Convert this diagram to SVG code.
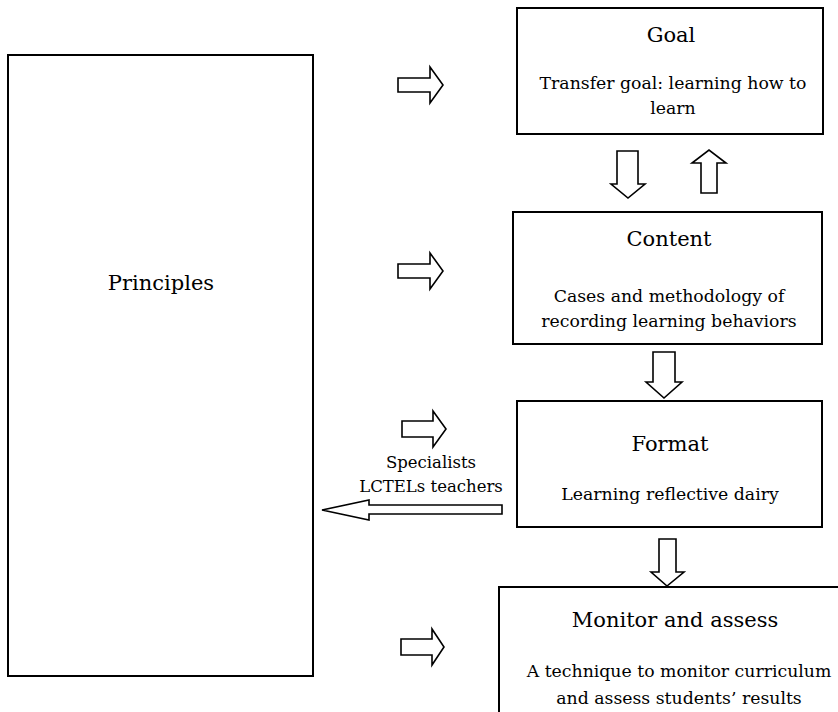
<svg xmlns="http://www.w3.org/2000/svg" width="838" height="712" viewBox="0 0 838 712">
<style>
.box{fill:#fff;stroke:#000;stroke-width:2}
.arr{fill:#fff;stroke:#000;stroke-width:1.6;stroke-linejoin:miter}
text{font-family:"DejaVu Serif","Liberation Serif",serif;fill:#000;text-anchor:middle}
.t{font-size:21px}
.s{font-size:17.3px}
.l{font-size:16.5px}
</style>
<rect width="838" height="712" fill="#fff"/>
<g id="principles">
<rect class="box" x="8" y="55" width="305" height="621"/>
<text class="t" x="161" y="290">Principles</text>
</g>
<g id="goal">
<rect class="box" x="517" y="8" width="306" height="126"/>
<text class="t" x="671" y="42">Goal</text>
<text class="s" x="673" y="89">Transfer goal: learning how to</text>
<text class="s" x="673" y="114">learn</text>
</g>
<g id="content">
<rect class="box" x="513" y="212" width="309" height="132"/>
<text class="t" x="669" y="246">Content</text>
<text class="s" x="669" y="302">Cases and methodology of</text>
<text class="s" x="669" y="327">recording learning behaviors</text>
</g>
<g id="format">
<rect class="box" x="517" y="401" width="305" height="126"/>
<text class="t" x="670" y="451">Format</text>
<text class="s" x="670" y="500">Learning reflective dairy</text>
</g>
<g id="monitor">
<rect class="box" x="499" y="587" width="345" height="135"/>
<text class="t" x="675" y="627">Monitor and assess</text>
<text class="s" x="679" y="677">A technique to monitor curriculum</text>
<text class="s" x="679" y="704">and assess students’ results</text>
</g>
<g id="connectors">
<path class="arr" d="M398,78 H430 V67 L443,85 L430,103 V92 H398 Z"/>
<path class="arr" d="M398,264 H430 V253 L443,271 L430,289 V278 H398 Z"/>
<path class="arr" d="M402,421 H433 V411 L446,429 L433,447 V437 H402 Z"/>
<path class="arr" d="M401,639 H432 V629 L444,647 L432,665 V655 H401 Z"/>
<path class="arr" d="M617,151 H638 V184 H645 L628,198 L611,184 H617 Z"/>
<path class="arr" d="M701,193 V163 H692 L709,150 L726,163 H717 V193 Z"/>
<path class="arr" d="M653,352 H675 V382 H682 L664,398 L646,382 H653 Z"/>
<path class="arr" d="M659,539 H676 V572 H684 L667,586 L651,572 H659 Z"/>
<path class="arr" d="M502,505 V514 H369 V520 L322,510 L369,500 V505 Z"/>
<text class="l" x="431" y="468">Specialists</text>
<text class="l" x="431" y="492">LCTELs teachers</text>
</g>
</svg>
